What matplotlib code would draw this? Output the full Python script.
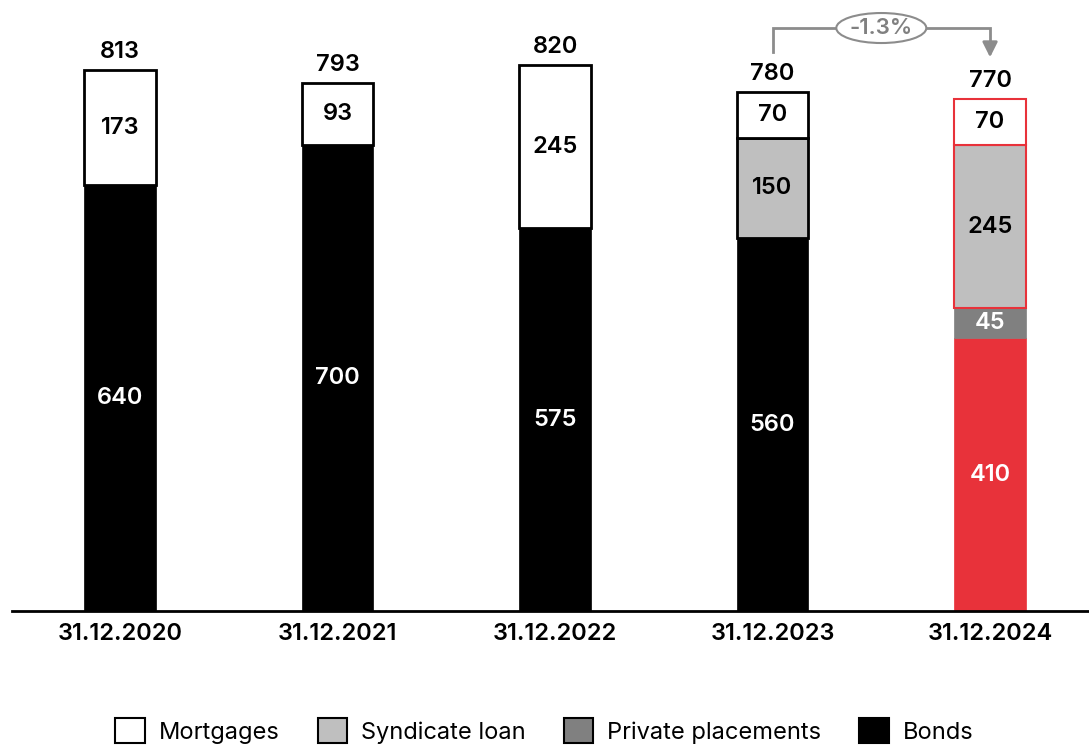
import matplotlib
matplotlib.use("Agg")
import matplotlib.pyplot as plt
from matplotlib.patches import Ellipse, Patch
import numpy as np

plt.rcParams['font.family'] = ['Inter', 'Liberation Sans', 'DejaVu Sans']

categories = ["31.12.2020", "31.12.2021", "31.12.2022", "31.12.2023", "31.12.2024"]
bonds = [640, 700, 575, 560, 410]
private_placements = [0, 0, 0, 0, 45]
syndicate_loan = [0, 0, 0, 150, 245]
mortgages = [173, 93, 245, 70, 70]
totals = [813, 793, 820, 780, 770]
change_label = "-1.3%"

RED = "#E8323A"
FS = 17
VW = "semibold"
fig = plt.figure(figsize=(10.89, 7.5), dpi=100)
ax = fig.add_axes([12/1089, 1 - 611/750, 1 - 12/1089, 611/750])
x = np.arange(len(categories))
w = 0.33

series = [
    ("Bonds", bonds, "#000000", "white"),
    ("Private placements", private_placements, "#808080", "white"),
    ("Syndicate loan", syndicate_loan, "#BFBFBF", "black"),
    ("Mortgages", mortgages, "#FFFFFF", "black"),
]
bottom = np.zeros(len(categories))
for name, vals, col, tcol in series:
    vals = np.array(vals, dtype=float)
    for i in range(len(categories)):
        if vals[i] <= 0:
            continue
        last = i == len(categories) - 1
        fc = col
        if last and name == "Bonds":
            fc = RED
        ec = RED if last else "black"
        lw = 1.5 if last else 2
        if name in ("Bonds", "Private placements"):
            ec = fc if not last else (RED if name == "Bonds" else "#808080")
            lw = 0.5
        ax.bar(x[i], vals[i], w, bottom=bottom[i], color=fc, edgecolor=ec,
               linewidth=lw, zorder=2)
        ax.text(x[i], bottom[i] + vals[i] / 2, f"{int(vals[i])}", ha="center",
                va="center", fontsize=FS, color=tcol, fontweight=VW, zorder=3)
    bottom += vals

for i, t in enumerate(totals):
    ax.annotate(f"{t}", (x[i], t), xytext=(0, 13), textcoords="offset points",
                ha="center", va="center", fontsize=FS, fontweight=VW, color="black")

# change annotation
GR = "#8C8C8C"
y_top = 876
ax.plot([x[3], x[3], x[4], x[4]], [840, y_top, y_top, 848], color=GR, lw=2, zorder=1,
        solid_joinstyle="miter")
ax.annotate("", xy=(x[4], 832), xytext=(x[4], 852),
            arrowprops=dict(arrowstyle="-|>,head_width=0.45,head_length=0.9",
                            color=GR, lw=2, shrinkA=0, shrinkB=0))
xm = (x[3] + x[4]) / 2
ell = Ellipse((xm, y_top), 90/217.5, 30/0.6655, facecolor="white", edgecolor=GR,
              lw=1.5, zorder=4)
ax.add_patch(ell)
ax.text(xm, y_top, change_label, ha="center", va="center", fontsize=16,
        fontweight=VW, color="#808080", zorder=5)

ax.set_xlim(-0.497, 4.455)
ax.set_ylim(0, 611/0.6655)
ax.set_xticks(x)
ax.set_xticklabels(categories, fontsize=FS, fontweight="semibold")
ax.tick_params(axis="x", length=0, pad=9)
ax.set_yticks([])
for s in ["top", "right", "left"]:
    ax.spines[s].set_visible(False)
ax.spines["bottom"].set_linewidth(2)
ax.spines["bottom"].set_zorder(5)

handles = [Patch(facecolor="#FFFFFF", edgecolor="black", lw=1.5, label="Mortgages"),
           Patch(facecolor="#BFBFBF", edgecolor="black", lw=1.5, label="Syndicate loan"),
           Patch(facecolor="#808080", edgecolor="black", lw=1.5, label="Private placements"),
           Patch(facecolor="#000000", edgecolor="black", lw=1.5, label="Bonds")]
fig.legend(handles=handles, loc="lower center", ncol=4, frameon=False,
           bbox_to_anchor=(0.5, -0.02), fontsize=FS, handlelength=1.25, handleheight=1.25,
           handletextpad=0.6, columnspacing=1.6)

fig.savefig("out.png", dpi=100)
